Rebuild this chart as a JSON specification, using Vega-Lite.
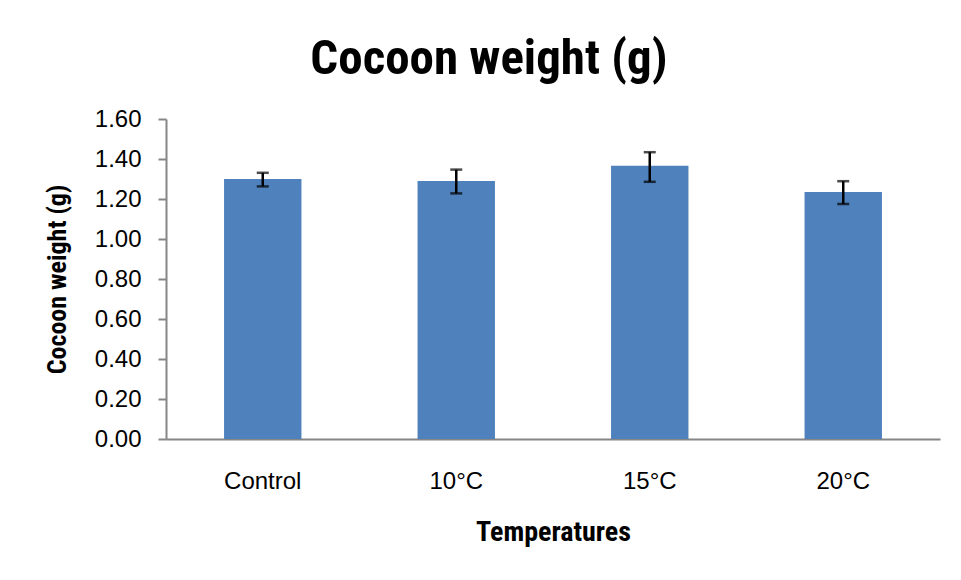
{
  "$schema": "https://vega.github.io/schema/vega-lite/v6.json",
  "width": 774,
  "height": 320,
  "autosize": "none",
  "padding": {"left": 166, "top": 119, "right": 21, "bottom": 141},
  "background": "white",
  "config": {"view": {"stroke": null}, "axisY": {"labelOverlap": false}},
  "title": {
    "text": "Cocoon weight (g)",
    "font": "Roboto Condensed",
    "fontSize": 49,
    "fontWeight": "bold",
    "color": "black",
    "anchor": "middle",
    "dx": -64,
    "offset": 23
  },
  "data": {
    "values": [
      {"temp": "Control", "weight": 1.30, "lo": 1.263, "hi": 1.331},
      {"temp": "10°C", "weight": 1.29, "lo": 1.228, "hi": 1.347},
      {"temp": "15°C", "weight": 1.366, "lo": 1.286, "hi": 1.434},
      {"temp": "20°C", "weight": 1.235, "lo": 1.175, "hi": 1.289}
    ]
  },
  "encoding": {
    "x": {
      "field": "temp",
      "type": "nominal",
      "sort": null,
      "scale": {"paddingInner": 0.6, "paddingOuter": 0.3},
      "axis": {
        "title": "Temperatures",
        "titleFont": "Roboto Condensed",
        "titleFontSize": 28,
        "titleFontWeight": "bold",
        "titleColor": "black",
        "titlePadding": 25,
        "labelFont": "Liberation Sans",
        "labelFontSize": 24,
        "labelColor": "black",
        "labelAngle": 0,
        "labelPadding": 30,
        "ticks": false,
        "domainColor": "#868686",
        "domainWidth": 2
      }
    }
  },
  "resolve": {"axis": {"y": "independent"}},
  "layer": [
    {
      "mark": {"type": "bar", "color": "#4F81BD"},
      "encoding": {
        "y": {
          "field": "weight",
          "type": "quantitative",
          "scale": {"domain": [0, 1.6]},
          "axis": {
            "title": "Cocoon weight (g)",
            "titleFont": "Roboto Condensed",
            "titleFontSize": 26,
            "titleFontWeight": "bold",
            "titleColor": "black",
            "titlePadding": 24,
            "values": [0, 0.2, 0.4, 0.6, 0.8, 1.0, 1.2, 1.4, 1.6],
            "format": ".2f",
            "labelFont": "Liberation Sans",
            "labelFontSize": 24,
            "labelColor": "black",
            "labelPadding": 17,
            "labelOverlap": false,
            "grid": false,
            "tickSize": 8,
            "tickColor": "#868686",
            "tickWidth": 2,
            "domainColor": "#868686",
            "domainWidth": 2
          }
        }
      }
    },
    {
      "mark": {"type": "rule", "color": "black", "strokeWidth": 2.5},
      "encoding": {
        "y": {"field": "lo", "type": "quantitative", "axis": null},
        "y2": {"field": "hi"}
      }
    },
    {
      "mark": {"type": "tick", "color": "black", "size": 12, "thickness": 2.5},
      "encoding": {"y": {"field": "lo", "type": "quantitative", "axis": null}}
    },
    {
      "mark": {"type": "tick", "color": "black", "size": 12, "thickness": 2.5},
      "encoding": {"y": {"field": "hi", "type": "quantitative", "axis": null}}
    }
  ]
}
